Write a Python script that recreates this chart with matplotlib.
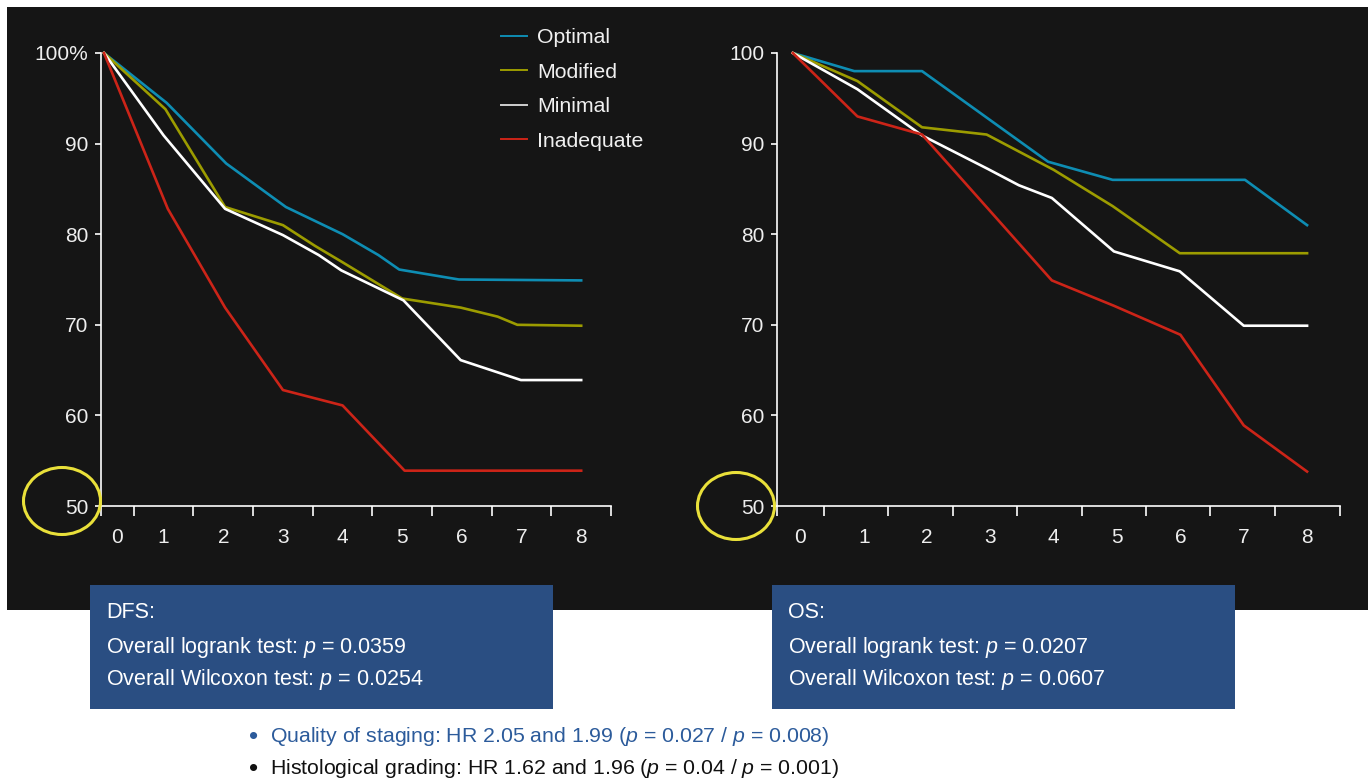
import numpy as np
import matplotlib
matplotlib.use("Agg")
import matplotlib.pyplot as plt
from matplotlib.patches import Rectangle, Ellipse

# FONTS

plt.rcParams['font.family'] = ['Liberation Sans', 'DejaVu Sans']
plt.rcParams['mathtext.fontset'] = 'custom'
plt.rcParams['mathtext.it'] = 'Liberation Sans:italic'
plt.rcParams['mathtext.rm'] = 'Liberation Sans'

# DATA (survival, %, by year)

groups = ['Optimal', 'Modified', 'Minimal', 'Inadequate']
colors = ['#0e8db3', '#9c9c00', '#ffffff', '#cc2418']

# disease-free survival
dfs_t = [
    [0, 1.05, 2.05, 3.05, 4.0, 4.6, 4.95, 5.95, 8],
    [0, 1.03, 2.03, 3.0, 3.54, 4.0, 5.0, 5.98, 6.6, 6.93, 8],
    [0, 1.0, 2.03, 3.0, 3.6, 3.98, 5.02, 5.98, 6.99, 8],
    [0, 1.07, 2.03, 3.0, 4.0, 5.04, 8],
]
dfs_opt = [100, 94.5, 87.8, 83.0, 80.0, 77.7, 76.1, 75.0, 74.9]
dfs_mod = [100, 93.8, 83.0, 81.0, 78.7, 76.9, 72.9, 71.9, 70.9, 70.0, 69.9]
dfs_min = [100, 90.9, 82.8, 79.9, 77.7, 76.0, 72.7, 66.1, 63.9, 63.9]
dfs_inad = [100, 82.8, 71.9, 62.8, 61.1, 53.9, 53.9]

# overall survival
os_t = [
    [-0.12, 0.85, 1.92, 3.91, 4.93, 7.02, 8],
    [-0.12, 0.9, 1.92, 2.94, 4.0, 4.93, 5.99, 8],
    [-0.12, 0.9, 1.92, 2.96, 3.45, 3.97, 4.95, 5.99, 7.0, 8],
    [-0.12, 0.9, 1.92, 3.97, 4.95, 6.0, 7.0, 8],
]
os_opt = [100, 98, 98, 88, 86, 86, 81]
os_mod = [100, 96.9, 91.8, 91.0, 87.1, 83.1, 77.9, 77.9]
os_min = [100, 96.0, 90.9, 87.2, 85.4, 84.0, 78.1, 75.9, 69.9, 69.9]
os_inad = [100, 93.0, 91.0, 74.9, 72.1, 68.9, 58.9, 53.8]

year_labels = ['0', '1', '2', '3', '4', '5', '6', '7', '8']
yticks = [50, 60, 70, 80, 90, 100]
dfs_ylabels = ['50', '60', '70', '80', '90', '100%']
os_ylabels = ['50', '60', '70', '80', '90', '100']

box_dfs = ['DFS:', 'Overall logrank test: $\\mathit{p}$ = 0.0359',
           'Overall Wilcoxon test: $\\mathit{p}$ = 0.0254']
box_os = ['OS:', 'Overall logrank test: $\\mathit{p}$ = 0.0207',
          'Overall Wilcoxon test: $\\mathit{p}$ = 0.0607']
bullets = ['Quality of staging: HR 2.05 and 1.99 ($\\mathit{p}$ = 0.027 / $\\mathit{p}$ = 0.008)',
           'Histological grading: HR 1.62 and 1.96 ($\\mathit{p}$ = 0.04 / $\\mathit{p}$ = 0.001)']
bullet_colors = ['#2c5b9b', '#111111']

# FIGURE

W, H = 1368, 781
fig = plt.figure(figsize=(W / 100, H / 100), dpi=100, facecolor='white')


def px(x, y):
    return x / W, 1 - y / H


# dark panel behind both charts
fig.patches.append(Rectangle(px(7, 610), (W - 7) / W, 603 / H,
                             transform=fig.transFigure, facecolor='#151515',
                             edgecolor='none', zorder=-5))


def make_axes(left, right, xlim, label_pos, tick_pos, ylabels):
    x0, y0 = px(left, 506)
    ax = fig.add_axes([x0, y0, (right - left) / W, 453 / H])
    ax.set_facecolor('none')
    ax.set_xlim(*xlim)
    ax.set_ylim(50, 100)
    for s in ['top', 'right']:
        ax.spines[s].set_visible(False)
    for s in ['left', 'bottom']:
        ax.spines[s].set_color('white')
        ax.spines[s].set_linewidth(1.2)
    ax.set_yticks(yticks)
    ax.set_yticklabels(ylabels)
    ax.set_xticks(label_pos)
    ax.set_xticklabels(year_labels)
    ax.set_xticks(tick_pos, minor=True)
    ax.tick_params(axis='x', which='major', length=0, pad=15.5,
                   labelsize=15, labelcolor='#eeeeee')
    ax.tick_params(axis='x', which='minor', length=7, width=1.2,
                   color='white', direction='out')
    ax.tick_params(axis='y', length=4, width=1.2, color='white', pad=5,
                   labelsize=15, labelcolor='#eeeeee')
    return ax


ax1 = make_axes(101, 611, (-0.05, 8.5),
                [0.22, 1, 2, 3, 4, 5, 6, 7, 8],
                [-0.05, 0.5, 1.5, 2.5, 3.5, 4.5, 5.5, 6.5, 7.5, 8.5],
                dfs_ylabels)
ax2 = make_axes(777, 1340, (-0.37, 8.52),
                [0, 1, 2, 3, 4, 5, 6, 7, 8],
                [-0.37, 0.37, 1.39, 2.41, 3.42, 4.44, 5.46, 6.47, 7.49, 8.52],
                os_ylabels)

for t, v, c, g in zip(dfs_t, [dfs_opt, dfs_mod, dfs_min, dfs_inad], colors, groups):
    ax1.plot(t, v, color=c, lw=1.9, label=g, clip_on=False)
for t, v, c, g in zip(os_t, [os_opt, os_mod, os_min, os_inad], colors, groups):
    ax2.plot(t, v, color=c, lw=1.9, label=g, clip_on=False)

leg = ax1.legend(loc='upper left', bbox_to_anchor=px(501, 28),
                 bbox_transform=fig.transFigure, frameon=False,
                 fontsize=15.3, handlelength=1.2, handletextpad=0.5,
                 labelspacing=0.73, borderpad=0, borderaxespad=0)
for h in leg.get_lines():
    h.set_linewidth(1.4)
leg.get_lines()[2].set_color('#d0d0d0')
for t in leg.get_texts():
    t.set_color('#f0f0f0')

# yellow rings around the 50 marks
for cx, cy in [(62, 501), (736, 506)]:
    fig.patches.append(Ellipse(px(cx, cy), 77 / W, 67 / H,
                               transform=fig.transFigure, facecolor='none',
                               edgecolor='#e9e03a', lw=2.2, zorder=5))

# test result boxes
for bx, lines in [(90, box_dfs), (772, box_os)]:
    fig.patches.append(Rectangle(px(bx, 709), 463 / W, 124 / H,
                                 transform=fig.transFigure,
                                 facecolor='#2a4e82', edgecolor='none', zorder=2))
    for ly, s in zip([612, 647, 680], lines):
        fig.text(*px(bx + 16, ly), s, color='white', fontsize=15.5,
                 va='center', ha='left', zorder=3)

# bullet notes
for by, s, c in zip([736, 768], bullets, bullet_colors):
    fig.text(*px(249, by + 1), '\u2022', color=c, fontsize=19, va='center', ha='left')
    fig.text(*px(270, by), s, color=c, fontsize=15.3, va='center', ha='left')

fig.savefig('out.png', dpi=100, facecolor='white')
